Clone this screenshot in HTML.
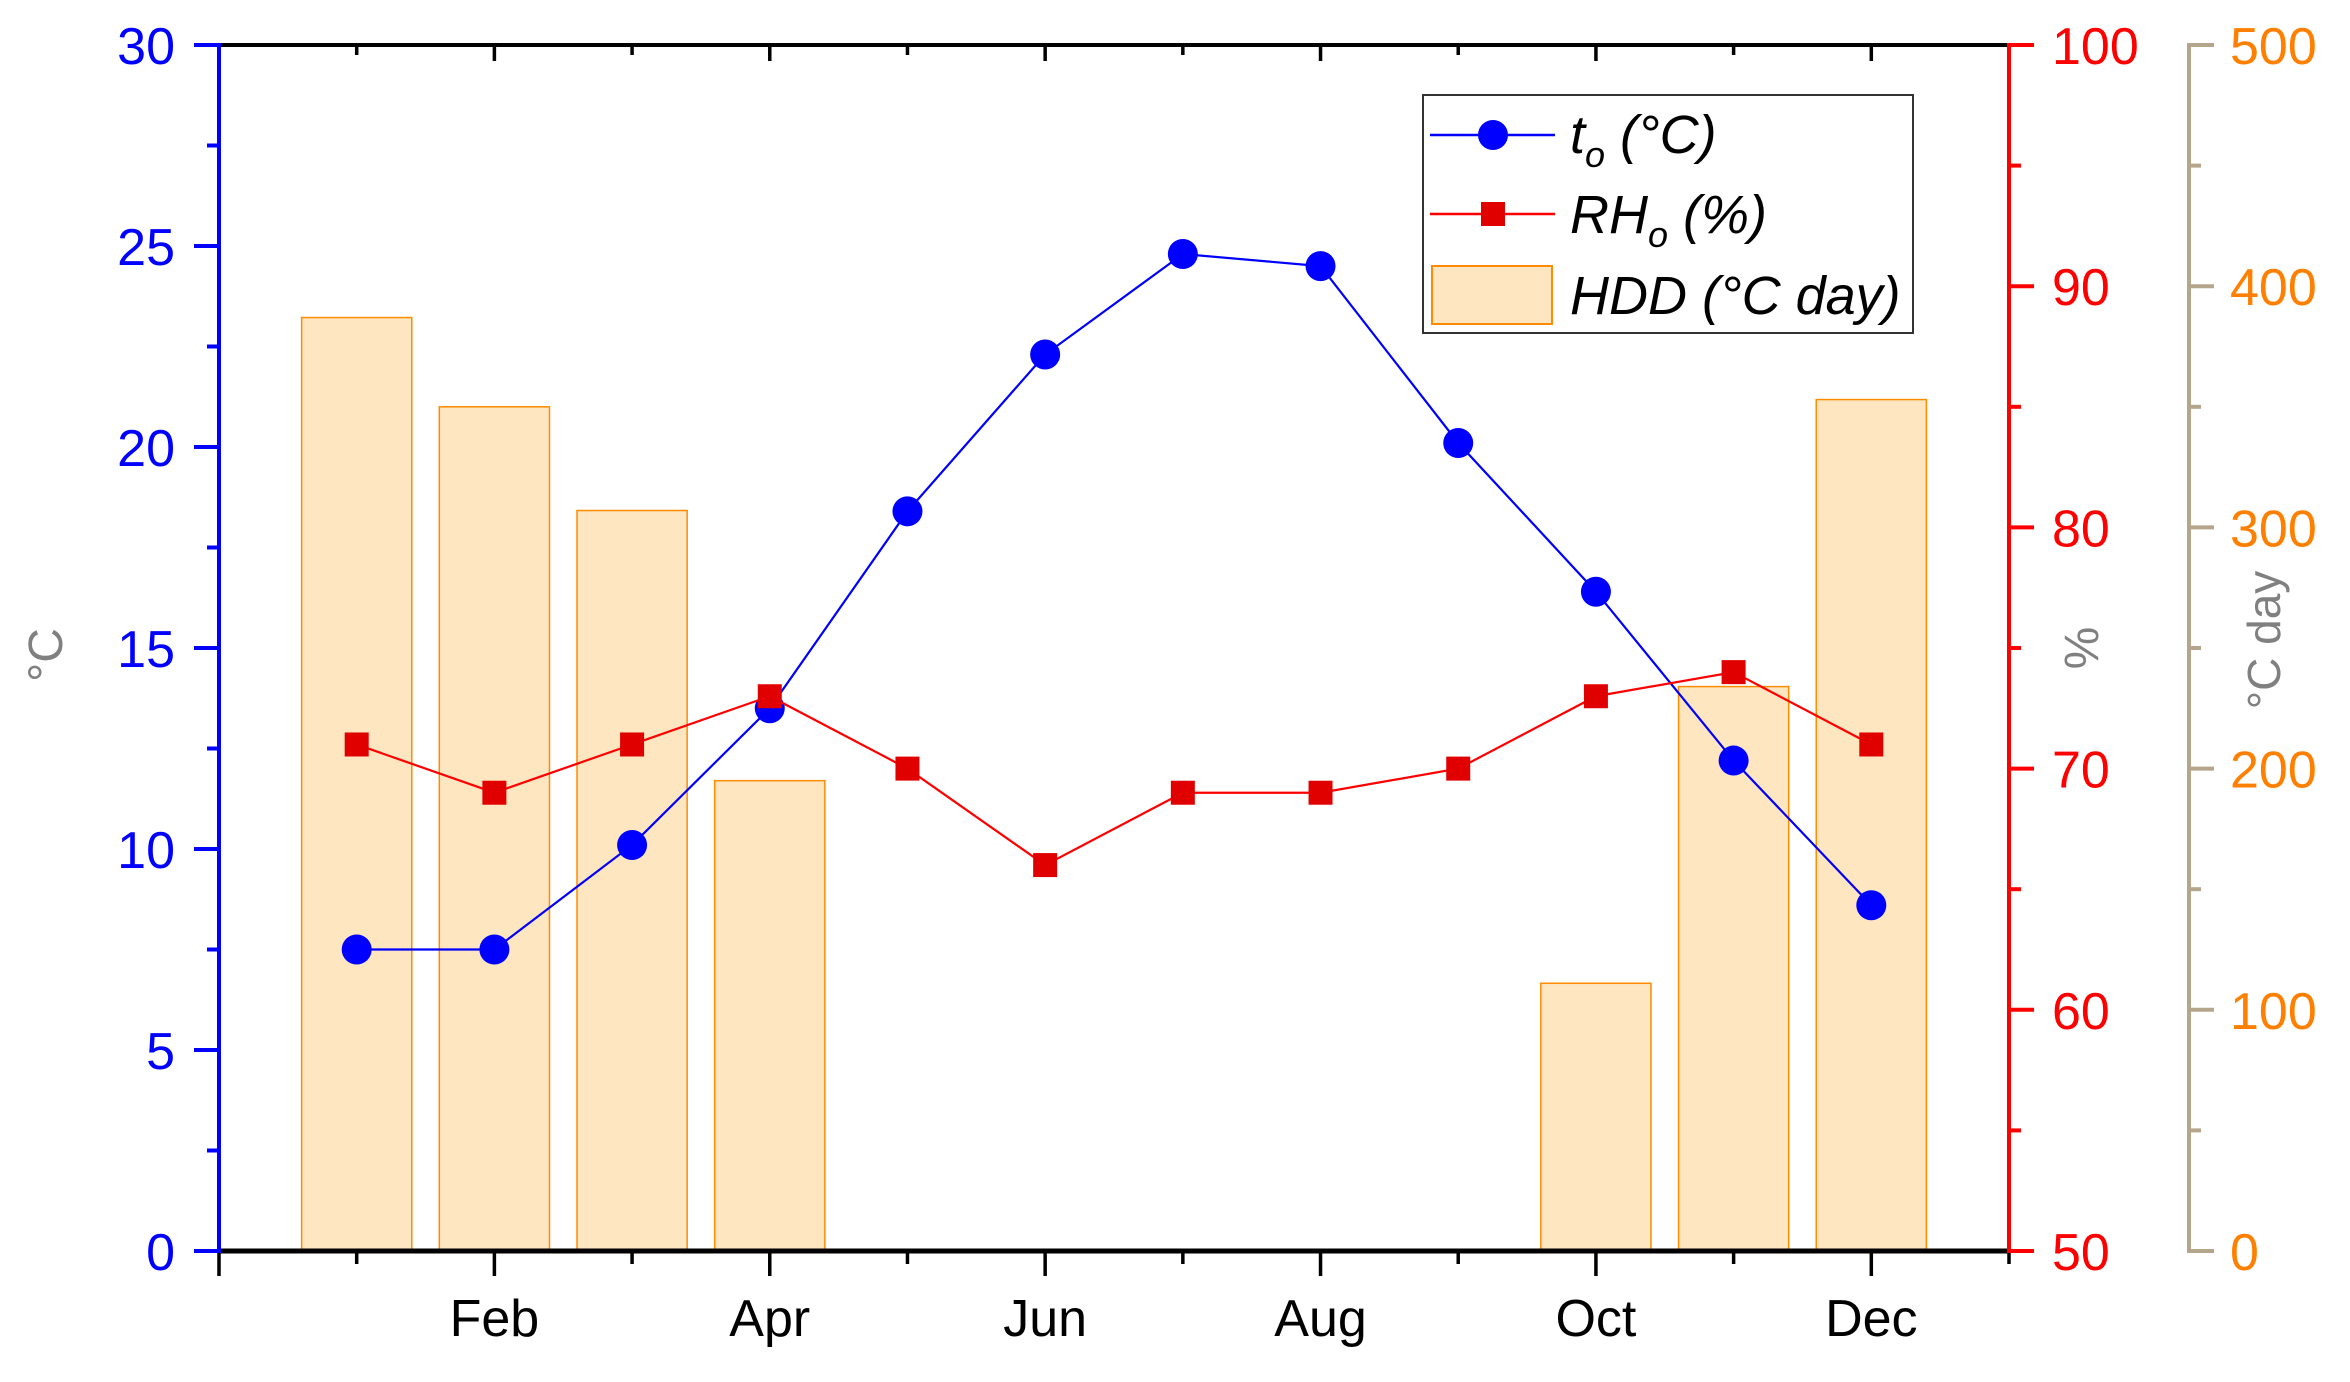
<!DOCTYPE html>
<html><head><meta charset="utf-8"><style>
html,body{margin:0;padding:0;background:#fff;}
svg{display:block;font-family:"Liberation Sans",sans-serif;}
</style></head><body>
<svg id="chart" width="2350" height="1382" viewBox="0 0 2350 1382" xmlns="http://www.w3.org/2000/svg"></svg>
<script>
const months = [1,2,3,4,5,6,7,8,9,10,11,12];
const monthLabels = ["Feb","Apr","Jun","Aug","Oct","Dec"];
const monthLabelPos = [2,4,6,8,10,12];
const tempValues = [7.5,7.5,10.1,13.5,18.4,22.3,24.8,24.5,20.1,16.4,12.2,8.6];
const rhValues = [71,69,71,73,70,66,69,69,70,73,74,71];
const hddMonths = [1,2,3,4,10,11,12];
const hddValues = [387,350,307,195,111,234,353];
const tempTicks = [0,5,10,15,20,25,30];
const rhTicks = [50,60,70,80,90,100];
const hddTicks = [0,100,200,300,400,500];

const L=219, R=2009, T=45, B=1251, A3=2189;
const sx = m => L + (m-0)/13*(R-L);
const syT = v => B - v/30*(B-T);
const syR = v => B - (v-50)/50*(B-T);
const syH = v => B - v/500*(B-T);
const NS="http://www.w3.org/2000/svg";
const svg=document.getElementById('chart');
function mk(tag,attrs,parent){const e=document.createElementNS(NS,tag);for(const k in attrs)e.setAttribute(k,attrs[k]);(parent||svg).appendChild(e);return e;}

const gb=mk('g',{});


const bw=0.8*(sx(1)-sx(0));
hddMonths.forEach((m,i)=>{
  const y=syH(hddValues[i]);
  const r=mk('rect',{x:sx(m)-bw/2,y:y,width:bw,height:B-y,fill:'#fee6c0',stroke:'#ff8c00','stroke-width':1.5},gb);
  
  
});

mk('line',{x1:L,y1:T,x2:R,y2:T,stroke:'#000','stroke-width':4});
mk('line',{x1:L,y1:B,x2:R,y2:B,stroke:'#000','stroke-width':5});
for(let m=0;m<=13;m++){
  const x=sx(m); const major=(m%2===0);
  mk('line',{x1:x,y1:B,x2:x,y2:B+(major?25:13),stroke:'#000','stroke-width':3.5});
  if(m>0&&m<13) mk('line',{x1:x,y1:T,x2:x,y2:T+(major?16:10),stroke:'#000','stroke-width':3.5});
}
monthLabels.forEach((lab,i)=>{
  const t=mk('text',{x:sx(monthLabelPos[i]),y:1336,'font-size':52,'text-anchor':'middle',fill:'#000'});
  t.textContent=lab;
  
  
});

mk('line',{x1:L,y1:T-2,x2:L,y2:B+2,stroke:'#0000ff','stroke-width':4});
for(let v=0;v<=30;v+=2.5){const y=syT(v);const maj=v%5===0;mk('line',{x1:L-(maj?25:12),y1:y,x2:L,y2:y,stroke:'#0000ff','stroke-width':4});}
tempTicks.forEach(v=>{const t=mk('text',{x:175,y:syT(v)+19,'font-size':52,'text-anchor':'end',fill:'#0000ff'});t.textContent=v;
});
const lt=mk('text',{x:0,y:0,'font-size':48,fill:'#808080','text-anchor':'middle',transform:'translate(62,655) rotate(-90)'});lt.textContent='°C';


mk('line',{x1:R,y1:T-2,x2:R,y2:B+2,stroke:'#ff0000','stroke-width':4});
for(let v=50;v<=100;v+=5){const y=syR(v);const maj=v%10===0;mk('line',{x1:R,y1:y,x2:R+(maj?25:12),y2:y,stroke:'#ff0000','stroke-width':4});}
rhTicks.forEach(v=>{const t=mk('text',{x:2052,y:syR(v)+19,'font-size':52,'text-anchor':'start',fill:'#ff0000'});t.textContent=v;
});
const rt=mk('text',{x:0,y:0,'font-size':48,fill:'#808080','text-anchor':'middle',transform:'translate(2098,648) rotate(-90)'});rt.textContent='%';


mk('line',{x1:A3,y1:T-2,x2:A3,y2:B+2,stroke:'#b5a58a','stroke-width':4});
for(let v=0;v<=500;v+=50){const y=syH(v);const maj=v%100===0;mk('line',{x1:A3,y1:y,x2:A3+(maj?25:12),y2:y,stroke:'#b5a58a','stroke-width':4});}
hddTicks.forEach(v=>{const t=mk('text',{x:2230,y:syH(v)+19,'font-size':52,'text-anchor':'start',fill:'#ff8000'});t.textContent=v;
});
const ht=mk('text',{x:0,y:0,'font-size':46,fill:'#808080','text-anchor':'middle',transform:'translate(2280,640) rotate(-90)'});ht.textContent='°C day';


const tl=mk('polyline',{points:months.map((m,i)=>sx(m)+','+syT(tempValues[i])).join(' '),fill:'none',stroke:'#0000ff','stroke-width':2.2});

months.forEach((m,i)=>{const c=mk('circle',{cx:sx(m),cy:syT(tempValues[i]),r:15,fill:'#0000ff'});
});
const rl=mk('polyline',{points:months.map((m,i)=>sx(m)+','+syR(rhValues[i])).join(' '),fill:'none',stroke:'#ff0000','stroke-width':2.2});

months.forEach((m,i)=>{const s=mk('rect',{x:sx(m)-12,y:syR(rhValues[i])-12,width:24,height:24,fill:'#e00000'});
});
</script>
<svg style="position:absolute;left:0;top:0" width="2350" height="1382" viewBox="0 0 2350 1382">
 <rect x="1423" y="95" width="490" height="238" fill="#fff" stroke="#333" stroke-width="2"/>
 <g>
  <line x1="1430" y1="135" x2="1555" y2="135" stroke="#0000ff" stroke-width="2.5"/>
  <circle cx="1493" cy="135" r="15" fill="#0000ff"/>
  <text x="1570" y="153" font-size="54" font-style="italic" font-family="Liberation Sans, sans-serif">t<tspan font-size="36" dy="14">o</tspan><tspan dy="-14"> (°C)</tspan></text>
 </g>
 <g>
  <line x1="1430" y1="214" x2="1555" y2="214" stroke="#ff0000" stroke-width="2.5"/>
  <rect x="1481" y="202" width="24" height="24" fill="#e00000"/>
  <text x="1570" y="233" font-size="54" font-style="italic" font-family="Liberation Sans, sans-serif">RH<tspan font-size="36" dy="14">o</tspan><tspan dy="-14"> (%)</tspan></text>
 </g>
 <g>
  <rect x="1432" y="266" width="120" height="58" fill="#fee6c0" stroke="#ff8c00" stroke-width="2"/>
  <text x="1570" y="314" font-size="54" font-style="italic" font-family="Liberation Sans, sans-serif">HDD (°C day)</text>
 </g>
</svg>
</body></html>
